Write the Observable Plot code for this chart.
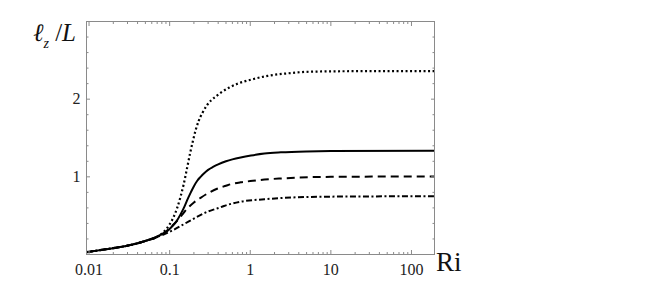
<!DOCTYPE html>
<html><head><meta charset="utf-8">
<script src="https://cdn.jsdelivr.net/npm/d3@7"></script>
<script src="https://cdn.jsdelivr.net/npm/@observablehq/plot@0.6"></script>
<style>
body{margin:0;background:#fff}
#c{position:relative;width:654px;height:288px;overflow:hidden}
#yl{position:absolute;left:33px;top:20px;font-family:"Liberation Serif","DejaVu Serif",serif;font-size:25px;line-height:1;color:#111;white-space:nowrap}
#yl sub{font-size:14px;position:relative;top:1px}
#xl{position:absolute;left:436px;top:249px;font-family:"Liberation Serif","DejaVu Serif",serif;font-size:27px;line-height:1;color:#111}
</style></head><body>
<div id="c"><div id="yl"><i>ℓ</i><sub><i>z</i></sub> /<i>L</i></div><div id="xl">Ri</div></div>
<script>
// x tick values and labels
const xMajor = [0.01, 0.1, 1, 10, 100];
const xMajorLabels = ["0.01", "0.1", "1", "10", "100"];
const xMinor = [0.02,0.03,0.04,0.05,0.06,0.07,0.08,0.09,
  0.2,0.3,0.4,0.5,0.6,0.7,0.8,0.9,
  2,3,4,5,6,7,8,9,
  20,30,40,50,60,70,80,90];
const yMajor = [1, 2];
const yMajorLabels = ["1", "2"];
const yMinor = [0.2,0.4,0.6,0.8,1.2,1.4,1.6,1.8,2.2,2.4,2.6,2.8];

// series: Ri values and ℓz/L values
const dottedRi = [0.0093,0.0154,0.0275,0.0486,0.078,0.093,0.108,0.124,0.137,0.149,0.165,0.179,0.193,0.21,0.229,0.254,0.29,0.33,0.38,0.44,0.55,0.7,1.1,1.64,2.75,5.7,18,193];
const dottedLz = [0.03,0.064,0.106,0.17,0.26,0.34,0.45,0.6,0.75,0.9,1.12,1.3,1.45,1.6,1.72,1.82,1.92,1.99,2.04,2.09,2.15,2.2,2.26,2.30,2.33,2.354,2.36,2.362];

const solidRi = [0.0093,0.0154,0.0275,0.0486,0.078,0.093,0.107,0.122,0.137,0.15,0.165,0.183,0.2,0.22,0.242,0.27,0.3,0.35,0.4,0.5,0.6,0.76,1.02,1.5,2.4,5,10,193];
const solidLz = [0.03,0.064,0.106,0.17,0.255,0.3,0.36,0.43,0.52,0.6,0.7,0.8,0.88,0.95,1.0,1.05,1.09,1.13,1.16,1.2,1.225,1.25,1.275,1.3,1.315,1.327,1.332,1.335];

const dashedRi = [0.0093,0.0154,0.0275,0.0486,0.078,0.093,0.11,0.13,0.15,0.165,0.2,0.242,0.3,0.394,0.5,0.573,0.76,1,1.5,2.5,3.85,10,193];
const dashedLz = [0.03,0.064,0.106,0.17,0.25,0.31,0.38,0.46,0.54,0.59,0.67,0.73,0.79,0.85,0.885,0.905,0.93,0.945,0.965,0.98,0.99,1.0,1.005];

const dashdotRi = [0.0093,0.0154,0.0275,0.0486,0.07,0.092,0.113,0.183,0.293,0.394,0.472,0.76,1.5,3.85,10,193];
const dashdotLz = [0.03,0.064,0.106,0.17,0.225,0.275,0.32,0.44,0.55,0.595,0.625,0.68,0.711,0.737,0.745,0.75];

const series = [
  {ri:dottedRi, lz:dottedLz, dash:"2,2.5", width:2.2},
  {ri:solidRi, lz:solidLz, dash:null, width:2},
  {ri:dashedRi, lz:dashedLz, dash:"8,5", width:2},
  {ri:dashdotRi, lz:dashdotLz, dash:"6,2.5,2,2.5", width:2}
];

const frameColor = "#8a8a8a";
const font = "'Liberation Serif', 'DejaVu Serif', serif";
const xLabel = d => { const i = xMajor.indexOf(d); return i < 0 ? "" : xMajorLabels[i]; };
const yLabel = d => { const i = yMajor.indexOf(d); return i < 0 ? "" : yMajorLabels[i]; };
const blank = () => "";

const lineMarks = series.map(s => Plot.line(s.ri.map((r, i) => ({ri: r, lz: s.lz[i]})), {
  x: "ri", y: "lz", curve: "monotone-x", stroke: "#000", strokeWidth: s.width,
  strokeDasharray: s.dash, strokeLinecap: "butt"
}));

const chart = Plot.plot({
  width: 654, height: 288,
  marginLeft: 86, marginRight: 220, marginTop: 21, marginBottom: 34,
  style: {fontFamily: font, fontSize: "16px", color: "#222", background: "transparent"},
  x: {type: "log", domain: [0.0093, 193]},
  y: {domain: [0, 3]},
  marks: [
    ...lineMarks,
    Plot.frame({stroke: frameColor, strokeWidth: 1}),
    Plot.axisX(xMajor, {anchor: "bottom", tickSize: -4, tickFormat: blank, label: null, stroke: frameColor}),
    Plot.axisX(xMinor, {anchor: "bottom", tickSize: -2, tickFormat: blank, label: null, stroke: frameColor}),
    Plot.axisX(xMajor, {anchor: "top", tickSize: -4, tickFormat: blank, label: null, stroke: frameColor}),
    Plot.axisX(xMinor, {anchor: "top", tickSize: -2, tickFormat: blank, label: null, stroke: frameColor}),
    Plot.axisX(xMajor, {anchor: "bottom", tickSize: 0, tickPadding: 9, tickFormat: xLabel, label: null, fill: "#222", fontSize: 16}),
    Plot.axisY(yMajor, {anchor: "left", tickSize: -4, tickFormat: blank, label: null, stroke: frameColor}),
    Plot.axisY(yMinor, {anchor: "left", tickSize: -2.5, tickFormat: blank, label: null, stroke: frameColor}),
    Plot.axisY(yMajor, {anchor: "right", tickSize: -4, tickFormat: blank, label: null, stroke: frameColor}),
    Plot.axisY(yMinor, {anchor: "right", tickSize: -2.5, tickFormat: blank, label: null, stroke: frameColor}),
    Plot.axisY(yMajor, {anchor: "left", tickSize: 0, tickPadding: 6, tickFormat: yLabel, label: null, fill: "#222", fontSize: 16})
  ]
});
document.getElementById("c").prepend(chart);
</script>
</body></html>
